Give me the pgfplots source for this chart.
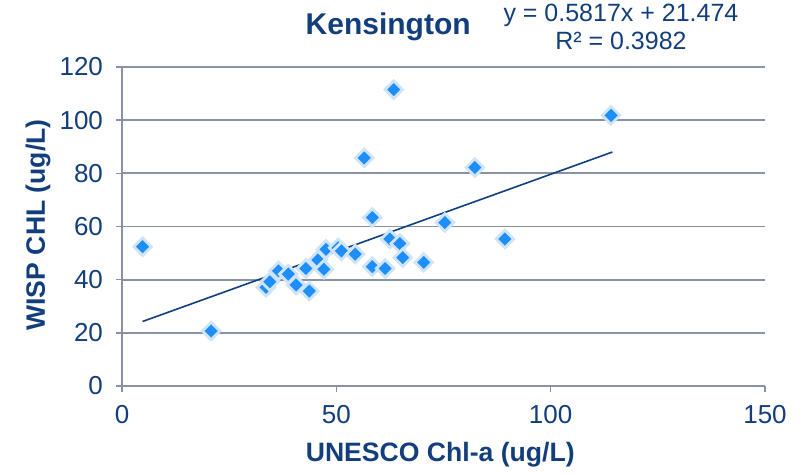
\documentclass[border=0pt]{standalone}
\usepackage{fontspec}
\setmainfont{Liberation Sans}
\usepackage{pgfplots}
\pgfplotsset{compat=1.18}

\definecolor{txtblue}{HTML}{133E7C}
\definecolor{ptblue}{HTML}{1E8EFA}
\definecolor{glow}{HTML}{CFE4F8}
\definecolor{gridgray}{HTML}{8A91A6}
\definecolor{trend}{HTML}{0F3F7F}

\begin{document}
\begin{tikzpicture}
\path[use as bounding box] (-61pt,-43.5pt) rectangle (339pt,193pt);
\begin{axis}[
  at={(0,0)}, anchor=south west,
  scale only axis, width=321.5pt, height=159.5pt,
  xmin=0, xmax=150, ymin=0, ymax=120,
  xtick={0,50,100,150}, ytick={0,20,...,120},
  axis x line=bottom, axis y line=left,
  axis line style={gridgray, line width=0.9pt, -},
  ymajorgrids, grid style={gridgray, line width=0.9pt},
  tick style={gridgray, line width=0.8pt},
  tick align=outside, major tick length=3pt,
  tick label style={font=\fontsize{13}{15}\selectfont, text=txtblue},
  /pgf/number format/assume math mode=true,
  xticklabel style={yshift=-3pt},
  yticklabel style={xshift=-3pt},
  xlabel={\textbf{UNESCO Chl-a (ug/L)}},
  ylabel={\textbf{WISP CHL (ug/L)}},
  label style={font=\fontsize{13.3}{15}\selectfont, text=txtblue},
  xlabel style={at={(rel axis cs:0.495,0)}, anchor=center, yshift=-34.5pt},
  ylabel style={at={(rel axis cs:0,0.505)}, anchor=center, yshift=42pt},
  clip=false,
]
\addplot[trend, line width=0.8pt] coordinates {(4.8,24.27) (114.4,88.02)};
\addplot[only marks, mark=square*, mark size=3.1pt,
  mark options={rotate=45, fill=ptblue, draw=glow, line width=1.4pt}]
  coordinates {
  (4.8,52.4) (20.8,20.7) (33.6,37.1) (34.5,39.2) (36.5,43.3) (38.8,42.1)
  (40.6,38.0) (42.9,44.2) (43.7,35.7) (45.7,47.4) (47.1,43.9) (47.6,51.4)
  (50.4,52.0) (51.2,50.8) (54.4,49.6) (56.5,85.8) (58.4,63.4) (58.4,44.9)
  (61.4,44.2) (62.5,55.3) (63.4,111.5) (64.8,53.6) (65.5,48.3) (70.4,46.5)
  (75.3,61.5) (82.3,82.2) (89.3,55.3) (114.1,101.8)
  };
\node[font=\fontsize{15}{17}\selectfont\bfseries, text=txtblue]
  at (rel axis cs:0.414,1) [yshift=20pt] {Kensington};
\node[font=\fontsize{12.5}{14}\selectfont, text=txtblue, align=center]
  at (rel axis cs:0.776,1) [yshift=20pt] {y = 0.5817x + 21.474\\R² = 0.3982};
\end{axis}
\end{tikzpicture}
\end{document}
